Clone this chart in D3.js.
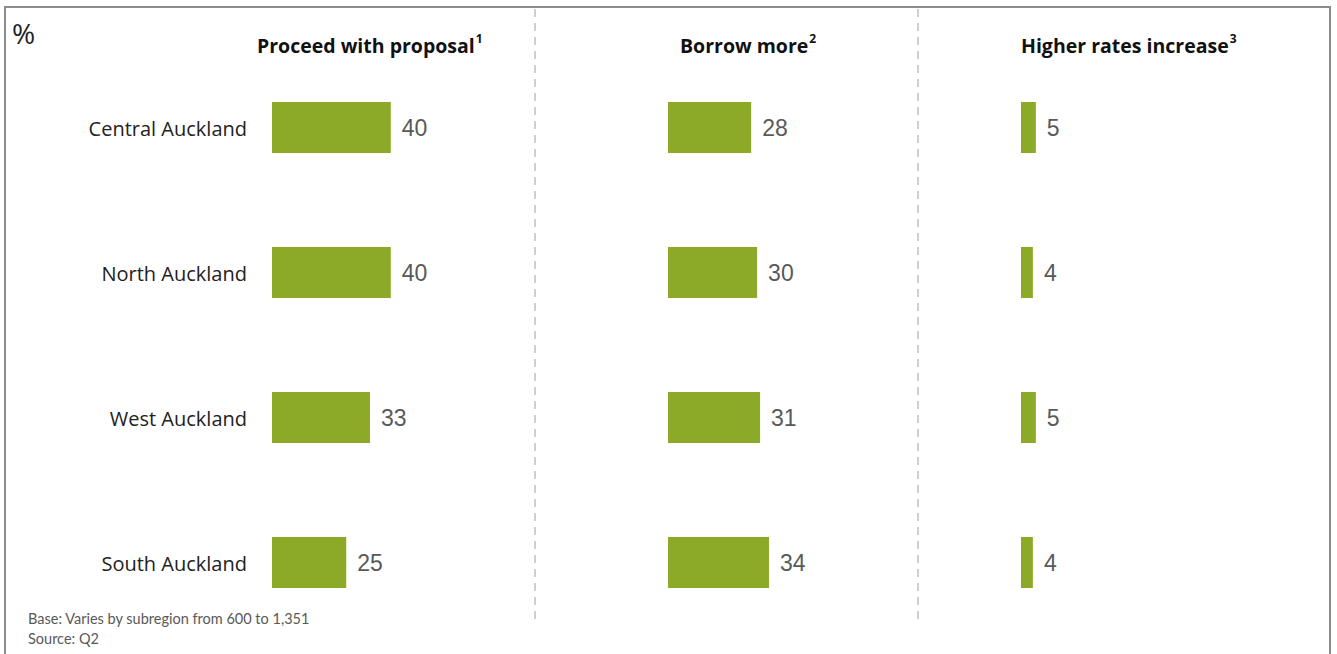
<!DOCTYPE html>
<html>
<head>
<meta charset="utf-8">
<script src="https://cdn.jsdelivr.net/npm/d3@7"></script>
<style>
  html, body { margin: 0; padding: 0; background: #fff; }
  svg { display: block; }
</style>
</head>
<body>
<svg id="chart" width="1337" height="654"></svg>
<script>
// Subregions (rows) and the three measures (panels)
const regions = ["Central Auckland", "North Auckland", "West Auckland", "South Auckland"];
const panelTitles = ["Proceed with proposal", "Borrow more", "Higher rates increase"];
const panelNotes = ["1", "2", "3"];

// Percentages per panel, in the order of `regions`
const proceedValues = [40, 40, 33, 25];
const borrowValues = [28, 30, 31, 34];
const ratesValues = [5, 4, 5, 4];

const footnotes = ["Base: Varies by subregion from 600 to 1,351", "Source: Q2"];

const panels = [
  { title: panelTitles[0], note: panelNotes[0], values: proceedValues, x0: 272, titleX: 257 },
  { title: panelTitles[1], note: panelNotes[1], values: borrowValues, x0: 668, titleX: 680 },
  { title: panelTitles[2], note: panelNotes[2], values: ratesValues, x0: 1021, titleX: 1021 }
];

const svg = d3.select("#chart");
const barColor = "#8CAA28";
const labelColor = "#595959";

// Frame around the chart (open at the bottom edge)
svg.append("path")
  .attr("d", "M5,654 V7 H1330 V654")
  .attr("fill", "none")
  .attr("stroke", "#8c8c8c")
  .attr("stroke-width", 2);

// Dashed dividers between panels
[535, 918].forEach(x => {
  svg.append("line")
    .attr("x1", x).attr("x2", x)
    .attr("y1", 9).attr("y2", 620)
    .attr("stroke", "#cfcfcf")
    .attr("stroke-width", 2)
    .attr("stroke-dasharray", "8,6");
});

// Unit marker
svg.append("text")
  .attr("x", 12).attr("y", 44)
  .attr("font-family", "'Open Sans', sans-serif")
  .attr("font-size", 28)
  .attr("fill", "#222")
  .text("%");

// Shared scales
const x = d3.scaleLinear().domain([0, 100]).range([0, 297]);
const y = d3.scaleBand().domain(regions).range([55, 635]).paddingInner(0.648).paddingOuter(0.324);

// Category labels
svg.append("g")
  .selectAll("text")
  .data(regions)
  .join("text")
  .attr("x", 247)
  .attr("y", d => y(d) + y.bandwidth() / 2 + 8)
  .attr("text-anchor", "end")
  .attr("font-family", "'Open Sans', sans-serif")
  .attr("font-size", 20)
  .attr("fill", "#222")
  .text(d => d);

panels.forEach(p => {
  const g = svg.append("g").attr("transform", `translate(${p.x0},0)`);

  // Panel heading with superscript note
  const t = svg.append("text")
    .attr("x", p.titleX).attr("y", 53)
    .attr("font-family", "'Open Sans', sans-serif")
    .attr("font-weight", "bold")
    .attr("font-size", 19.5)
    .attr("fill", "#111");
  t.append("tspan").text(p.title);
  t.append("tspan")
    .attr("dy", -10)
    .attr("dx", 1)
    .attr("font-size", 12)
    .text(p.note);

  const rows = regions.map((r, i) => ({ region: r, value: p.values[i] }));

  g.selectAll("rect")
    .data(rows)
    .join("rect")
    .attr("x", 0)
    .attr("y", d => y(d.region))
    .attr("width", d => x(d.value))
    .attr("height", y.bandwidth())
    .attr("fill", barColor);

  g.selectAll("text.value")
    .data(rows)
    .join("text")
    .attr("class", "value")
    .attr("x", d => x(d.value) + 11)
    .attr("y", d => y(d.region) + y.bandwidth() / 2 + 8)
    .attr("font-family", "'Liberation Sans', Arial, sans-serif")
    .attr("font-size", 23)
    .attr("fill", labelColor)
    .text(d => d.value);
});

// Footnotes
svg.append("g")
  .selectAll("text")
  .data(footnotes)
  .join("text")
  .attr("x", 28)
  .attr("y", (d, i) => 624 + i * 20)
  .attr("font-family", "Lato, sans-serif")
  .attr("font-size", 14.5)
  .attr("fill", labelColor)
  .text(d => d);
</script>
</body>
</html>
